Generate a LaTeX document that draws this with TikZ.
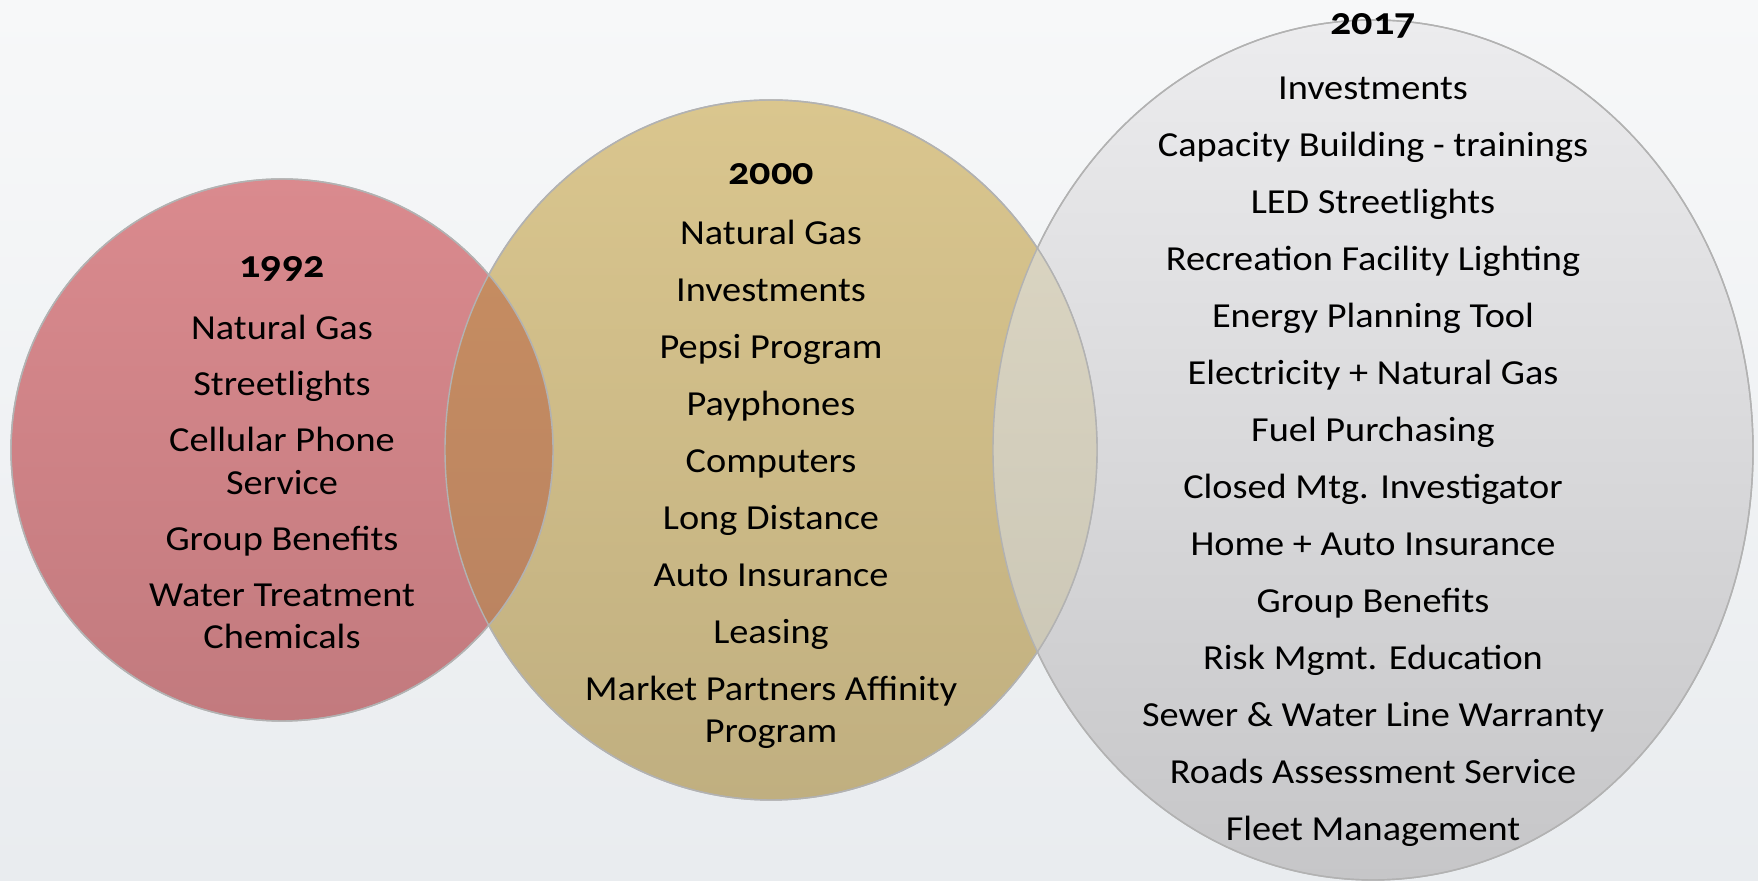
\documentclass[tikz,border=0pt]{standalone}
\usepackage{fontspec}
\setmainfont{Carlito}[Numbers=OldStyle,FakeStretch=1.09]
\definecolor{bgtop}{RGB}{247,248,249}
\definecolor{bgbot}{RGB}{233,236,239}
\definecolor{redtop}{RGB}{218,138,142}
\definecolor{redbot}{RGB}{194,122,126}
\definecolor{tantop}{RGB}{218,198,142}
\definecolor{tanbot}{RGB}{192,175,128}
\definecolor{greytop}{RGB}{236,236,238}
\definecolor{greybot}{RGB}{198,198,200}
\definecolor{lenstop}{RGB}{202,144,96}
\definecolor{lensbot}{RGB}{182,128,98}
\definecolor{palelenstop}{RGB}{222,216,196}
\definecolor{palelensbot}{RGB}{200,196,180}
\tikzset{
  yearlist/.style={align=center,inner sep=0pt,font=\fontsize{10}{12}\selectfont},
  rim/.style={draw=black!30,line width=0.4pt}
}
\newcommand{\yr}[1]{{\fontsize{11}{12}\selectfont\textbf{#1}}}
\begin{document}
\begin{tikzpicture}
        \useasboundingbox (0,0) rectangle (17.58,8.81);
        \shade[top color=bgtop,bottom color=bgbot] (0,0) rectangle (17.58,8.81);

        \shade[rim,top color=greytop,bottom color=greybot] (13.73,4.31) ellipse (3.80 and 4.30);
        \shade[rim,top color=tantop,bottom color=tanbot] (7.71,4.31) ellipse (3.26 and 3.50);
        \shade[rim,top color=redtop,bottom color=redbot] (2.82,4.31) circle (2.71);

        % overlaps
        \begin{scope}
            \clip (2.82,4.31) circle (2.71);
            \shade[top color=lenstop,bottom color=lensbot] (7.71,4.31) ellipse (3.26 and 3.50);
        \end{scope}
        \begin{scope}
            \clip (13.73,4.31) ellipse (3.80 and 4.30);
            \shade[top color=palelenstop,bottom color=palelensbot] (7.71,4.31) ellipse (3.26 and 3.50);
        \end{scope}
        \draw[rim] (2.82,4.31) circle (2.71);
        \draw[rim] (7.71,4.31) ellipse (3.26 and 3.50);
        \draw[rim] (13.73,4.31) ellipse (3.80 and 4.30);

        \node[yearlist](n1992)at(2.82,4.28){\yr{1992}\\[5.5pt]
            Natural Gas\\[4pt] Streetlights\\[4pt] Cellular Phone\\ Service\\[4pt]
            Group Benefits\\[4pt] Water Treatment\\ Chemicals};
        \node[yearlist](n2000)at(7.71,4.25){\yr{2000}\\[5pt]
            Natural Gas\\[4.2pt] Investments\\[4.2pt] Pepsi Program\\[4.2pt] Payphones\\[4.2pt]
            Computers\\[4.2pt] Long Distance\\[4.2pt] Auto Insurance\\[4.2pt] Leasing\\[4.2pt]
            Market Partners Affinity\\ Program};
        \node[yearlist](n2017)at(13.73,4.51){\yr{2017}\\[6.5pt]
            Investments\\[4.2pt] Capacity Building - trainings\\[4.2pt] LED Streetlights\\[4.2pt]
            Recreation Facility Lighting\\[4.2pt] Energy Planning Tool\\[4.2pt]
            Electricity + Natural Gas\\[4.2pt] Fuel Purchasing\\[4.2pt] Closed Mtg. Investigator\\[4.2pt]
            Home + Auto Insurance\\[4.2pt] Group Benefits\\[4.2pt] Risk Mgmt. Education\\[4.2pt]
            Sewer \& Water Line Warranty\\[4.2pt] Roads Assessment Service\\[4.2pt] Fleet Management};
    \end{tikzpicture}
\end{document}
